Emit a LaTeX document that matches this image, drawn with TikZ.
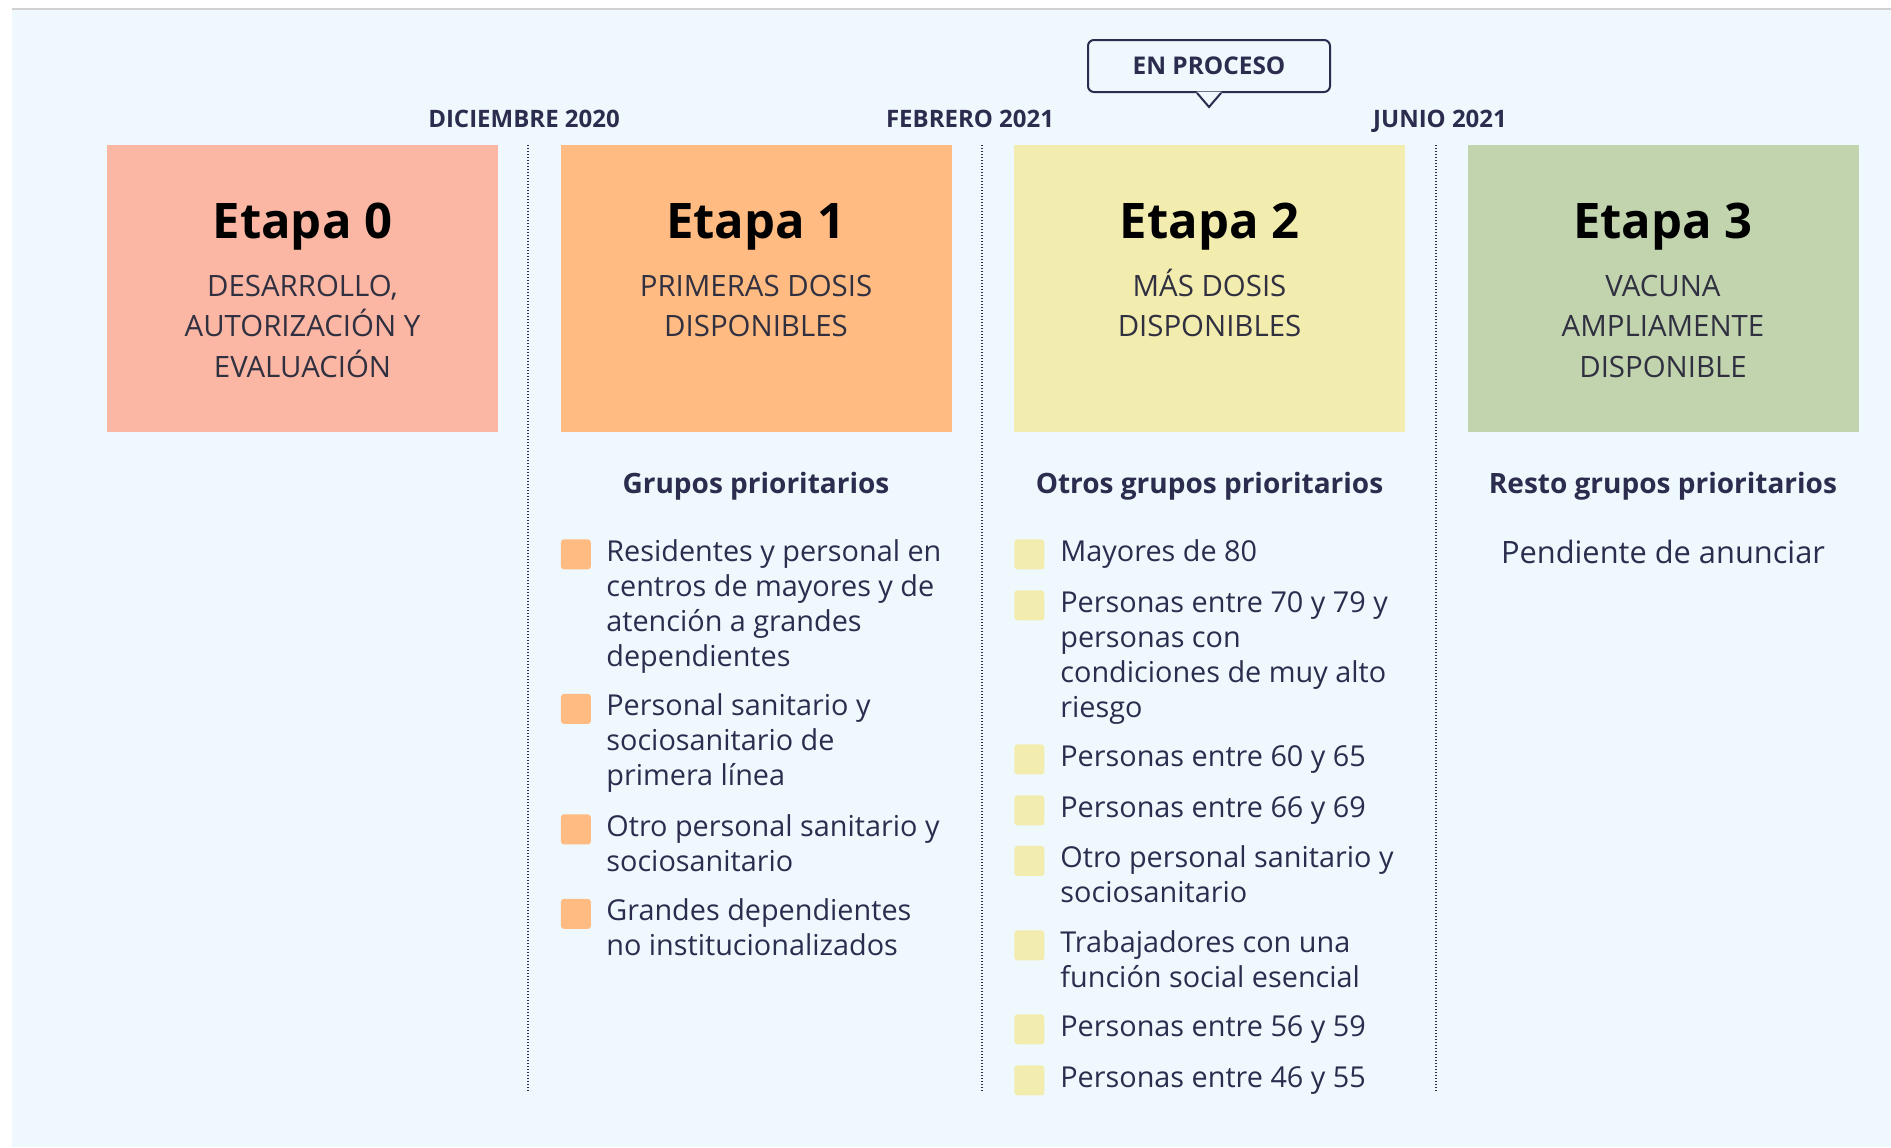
\documentclass[tikz,border=0pt]{standalone}
\usepackage{fontspec}
\setmainfont{Open Sans}
\definecolor{fondo}{HTML}{EEF8FD}
\definecolor{tinta}{HTML}{2C2D4E}
\definecolor{gris}{HTML}{303040}
\definecolor{salmon}{HTML}{FBB7A4}
\definecolor{naranja}{HTML}{FFBB82}
\definecolor{amarillo}{HTML}{F3ECAF}
\definecolor{verde}{HTML}{C1D4AE}

\begin{document}
\begin{tikzpicture}[x=0.5pt,y=-0.5pt,
  etapa/.style={fill=#1,anchor=north west,inner sep=0pt,minimum width=195.5pt,minimum height=143.5pt},
  titulo/.style={anchor=base,inner sep=0pt,text=black,font=\fontsize{24.5}{29}\selectfont\bfseries},
  fase/.style={anchor=base,inner sep=0pt,align=center,text=gris,font=\fontsize{14.7}{20.25}\selectfont},
  fecha/.style={anchor=base,inner sep=0pt,text=tinta,font=\fontsize{12}{14}\selectfont\bfseries},
  aviso/.style={draw=tinta,line width=1pt,fill=fondo,rounded corners=3pt,inner sep=0pt,
    minimum width=121pt,minimum height=26pt,text=tinta,font=\fontsize{12.2}{14}\selectfont\bfseries},
  grupo/.style={anchor=base,inner sep=0pt,text=tinta,font=\fontsize{14}{17.5}\selectfont\bfseries},
  item/.style={anchor=base west,inner sep=0pt,align=left,text=tinta,font=\fontsize{14.4}{17.5}\selectfont},
  cuadro/.style={fill=#1,anchor=north west,inner sep=0pt,minimum size=15pt,rounded corners=1.5pt},
  divisor/.style={tinta,line width=0.7pt,dash pattern=on 0.6pt off 0.9pt}]
\useasboundingbox (0,0) rectangle (1891,1147);
\fill[white] (0,0) rectangle (1891,1147);
\fill[fondo] (12,10) rectangle (1891,1147);
\draw[black!18,line width=1pt] (12,9) -- (1891,9);

\node[etapa=salmon] (e0) at (107,145) {};
\node[etapa=naranja] (e1) at (560.5,145) {};
\node[etapa=amarillo] (e2) at (1014,145) {};
\node[etapa=verde] (e3) at (1467.5,145) {};

\node[titulo] (t0) at (302.5,238) {Etapa 0};
\node[titulo] (t1) at (756,238) {Etapa 1};
\node[titulo] (t2) at (1209.5,238) {Etapa 2};
\node[titulo] (t3) at (1663,238) {Etapa 3};

% multi-line nodes sit on their last line
\node[fase] (f0) at (302.5,377) {DESARROLLO,\\AUTORIZACIÓN Y\\EVALUACIÓN};
\node[fase] (f1) at (756,336.5) {PRIMERAS DOSIS\\DISPONIBLES};
\node[fase] (f2) at (1209.5,336.5) {MÁS DOSIS\\DISPONIBLES};
\node[fase] (f3) at (1663,377) {VACUNA\\AMPLIAMENTE\\DISPONIBLE};

\coordinate (d1a) at (528,145);  \coordinate (d1b) at (528,1092);
\coordinate (d2a) at (982,145);  \coordinate (d2b) at (982,1092);
\coordinate (d3a) at (1436,145); \coordinate (d3b) at (1436,1092);
\draw[divisor] (d1a) -- (d1b);
\draw[divisor] (d2a) -- (d2b);
\draw[divisor] (d3a) -- (d3b);

\node[fecha] (dic) at (524,127) {DICIEMBRE 2020};
\node[fecha] (feb) at (970,127) {FEBRERO 2021};
\node[fecha] (jun) at (1440,127) {JUNIO 2021};

\node[aviso] (proc) at (1209,66) {EN PROCESO};
\coordinate (pico) at (1209,107);
\fill[fondo] ([xshift=-6.3pt,yshift=0.7pt]proc.south) -- (pico) -- ([xshift=6.3pt,yshift=0.7pt]proc.south) -- cycle;
\draw[tinta,line width=1pt] ([xshift=-6pt]proc.south) -- (pico) -- ([xshift=6pt]proc.south);

\node[grupo] (g1) at (756,493) {Grupos prioritarios};
\node[grupo] (g2) at (1209.5,493) {Otros grupos prioritarios};
\node[grupo] (g3) at (1663,493) {Resto grupos prioritarios};
\node[item,anchor=base,font=\fontsize{15.4}{17.5}\selectfont] (p3) at (1663,563) {Pendiente de anunciar};

\node[cuadro=naranja] (c11) at (560.5,539) {};
\node[item] (i11) at (606,666) {Residentes y personal en\\centros de mayores y de\\atención a grandes\\dependientes};
\node[cuadro=naranja] (c12) at (560.5,693.5) {};
\node[item] (i12) at (606,785.5) {Personal sanitario y\\sociosanitario de\\primera línea};
\node[cuadro=naranja] (c13) at (560.5,814) {};
\node[item] (i13) at (606,871) {Otro personal sanitario y\\sociosanitario};
\node[cuadro=naranja] (c14) at (560.5,898.5) {};
\node[item] (i14) at (606,955.5) {Grandes dependientes\\no institucionalizados};

\node[cuadro=amarillo] (c21) at (1014,539) {};
\node[item] (i21) at (1060,561) {Mayores de 80};
\node[cuadro=amarillo] (c22) at (1014,590) {};
\node[item] (i22) at (1060,717) {Personas entre 70 y 79 y\\personas con\\condiciones de muy alto\\riesgo};
\node[cuadro=amarillo] (c23) at (1014,744) {};
\node[item] (i23) at (1060,766) {Personas entre 60 y 65};
\node[cuadro=amarillo] (c24) at (1014,795) {};
\node[item] (i24) at (1060,817) {Personas entre 66 y 69};
\node[cuadro=amarillo] (c25) at (1014,845.5) {};
\node[item] (i25) at (1060,902.5) {Otro personal sanitario y\\sociosanitario};
\node[cuadro=amarillo] (c26) at (1014,930) {};
\node[item] (i26) at (1060,987) {Trabajadores con una\\función social esencial};
\node[cuadro=amarillo] (c27) at (1014,1014) {};
\node[item] (i27) at (1060,1036) {Personas entre 56 y 59};
\node[cuadro=amarillo] (c28) at (1014,1065) {};
\node[item] (i28) at (1060,1087) {Personas entre 46 y 55};
\end{tikzpicture}
\end{document}
